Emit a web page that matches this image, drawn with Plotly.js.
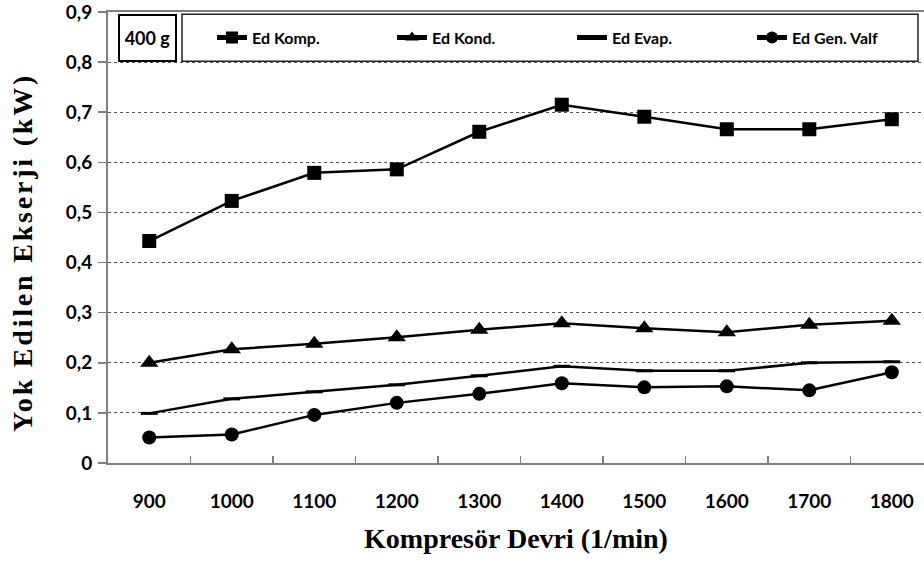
<!DOCTYPE html>
<html>
<head>
<meta charset="utf-8">
<script src="https://cdn.plot.ly/plotly-3.0.1.min.js"></script>
<style>
  html, body { margin: 0; padding: 0; background: #fff; }
  #chart { width: 924px; height: 563px; }
  /* widen the tracking of the vertical axis title */
  .annotation[data-index="1"] text { letter-spacing: 2.8px; }
</style>
</head>
<body>
<div id="chart"></div>
<script>
// Compressor speed (1/min)
const devir = ['900', '1000', '1100', '1200', '1300', '1400', '1500', '1600', '1700', '1800'];

// Exergy destruction per component (kW), 400 g charge
const edKomp = [0.443, 0.523, 0.579, 0.586, 0.661, 0.715, 0.691, 0.666, 0.666, 0.686];
const edKond = [0.200, 0.227, 0.238, 0.251, 0.266, 0.279, 0.269, 0.261, 0.276, 0.284];
const edEvap = [0.099, 0.128, 0.142, 0.156, 0.174, 0.193, 0.184, 0.184, 0.200, 0.202];
const edGenValf = [0.051, 0.057, 0.096, 0.120, 0.138, 0.159, 0.151, 0.153, 0.145, 0.181];

const seriesNames = ['Ed Komp.', 'Ed Kond.', 'Ed Evap.', 'Ed Gen. Valf'];
const yTicks = [0, 0.1, 0.2, 0.3, 0.4, 0.5, 0.6, 0.7, 0.8, 0.9];

const lineStyle = { color: '#000', width: 2.5 };

const traces = [
  { y: edKomp, name: seriesNames[0],
    marker: { symbol: 'square', size: 14, color: '#000' } },
  { y: edKond, name: seriesNames[1],
    marker: { symbol: 'triangle-up', size: 16, color: '#000' } },
  { y: edEvap, name: seriesNames[2],
    marker: { symbol: 'line-ew', size: 12, color: '#000', line: { color: '#000', width: 3 } } },
  { y: edGenValf, name: seriesNames[3],
    marker: { symbol: 'circle', size: 14, color: '#000' } }
].map(t => Object.assign({
  type: 'scatter', mode: 'lines+markers', x: devir, line: lineStyle, cliponaxis: false
}, t));

const axisGray = '#808080';

const layout = {
  width: 924, height: 563,
  margin: { l: 108, r: 0, t: 11.7, b: 99.5, autoexpand: false },
  paper_bgcolor: '#fff', plot_bgcolor: '#fff',
  separators: ',.',
  showlegend: true,
  font: { family: 'Lato, sans-serif', color: '#000' },
  xaxis: {
    type: 'category',
    range: [-0.5, 9.39],
    tickson: 'boundaries',
    ticks: 'inside', ticklen: 7, tickcolor: axisGray, tickwidth: 1.5,
    showline: true, linecolor: axisGray, linewidth: 2, mirror: true,
    showgrid: false, zeroline: false,
    tickfont: { family: 'Lato, sans-serif', size: 19, color: '#000', weight: 'bold' },
    ticklabelstandoff: 20,
    ticklabeloverflow: 'allow',
    automargin: false,
    title: { text: 'Kompresör Devri (1/min)', standoff: 18,
      font: { family: 'Liberation Serif, Times New Roman, serif', size: 28, color: '#000', weight: 'bold' } }
  },
  yaxis: {
    range: [0, 0.9],
    tickvals: yTicks,
    ticks: 'outside', ticklen: 8, tickcolor: axisGray, tickwidth: 1.5,
    showline: true, linecolor: axisGray, linewidth: 2,
    showgrid: true, gridcolor: '#555', gridwidth: 1, griddash: 'dot',
    zeroline: false,
    tickfont: { family: 'Lato, sans-serif', size: 19, color: '#000', weight: 'bold' },
    ticklabelstandoff: 2,
    ticklabeloverflow: 'allow',
    automargin: false
  },
  legend: {
    orientation: 'h',
    xref: 'container', yref: 'container',
    x: 212 / 924, xanchor: 'left',
    y: (563 - 37.5) / 563, yanchor: 'middle',
    bgcolor: 'rgba(0,0,0,0)', borderwidth: 0,
    entrywidth: 135,
    itemsizing: 'constant',
    font: { family: 'Lato, sans-serif', size: 16, color: '#000', weight: 'bold' }
  },
  shapes: [
    // frame around the legend entries
    { type: 'rect', xref: 'paper', yref: 'paper',
      x0: (182 - 108) / 816, x1: (918 - 108) / 816,
      y0: (463.5 - 61) / 451.8, y1: (463.5 - 14) / 451.8,
      line: { color: '#222', width: 1.5 }, fillcolor: '#fff', layer: 'above' }
  ],
  annotations: [
    // charge amount tag
    { xref: 'paper', yref: 'paper',
      x: (147.5 - 108) / 816, y: (463.5 - 38) / 451.8,
      xanchor: 'center', yanchor: 'middle',
      text: '400 g', showarrow: false,
      width: 55, height: 44, borderpad: 0,
      bordercolor: '#000', borderwidth: 2, bgcolor: '#fff',
      font: { family: 'Lato, sans-serif', size: 18, color: '#000', weight: 'bold' } },
    // vertical axis title
    { xref: 'paper', yref: 'paper',
      x: (23 - 108) / 816, y: (463.5 - 253) / 451.8,
      xanchor: 'center', yanchor: 'middle',
      textangle: -90, showarrow: false,
      text: 'Yok Edilen Ekserji (kW)',
      font: { family: 'Liberation Serif, Times New Roman, serif', size: 28, color: '#000', weight: 'bold' } }
  ]
};

Plotly.newPlot('chart', traces, layout, { staticPlot: true, displayModeBar: false });
</script>
</body>
</html>
